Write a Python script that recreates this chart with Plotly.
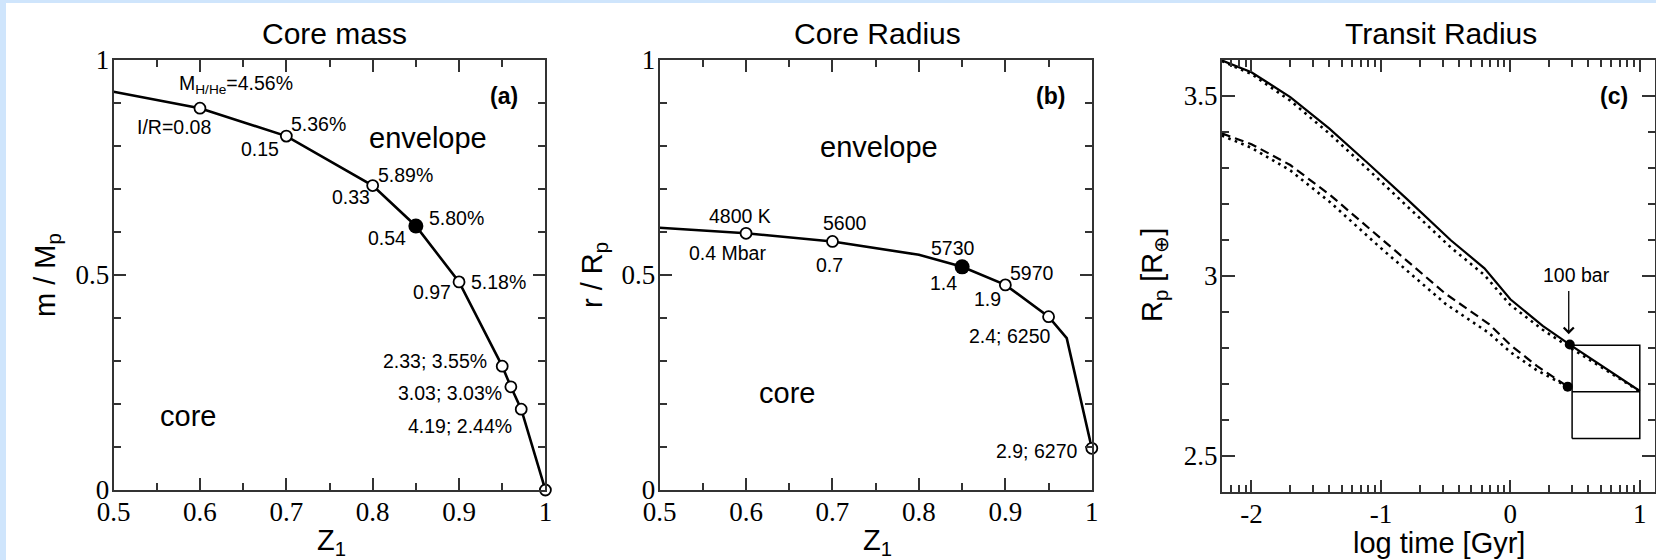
import math
import plotly.graph_objects as go

W, H = 1656, 560
SANS = "Liberation Sans, Arial, Helvetica, sans-serif"
SERIF = "Liberation Serif, Times New Roman, serif"
AX_COLOR = "#333333"

# ---------------- Panel (a): core mass ----------------
z_a = [0.5, 0.6, 0.7, 0.8, 0.85, 0.9, 0.95, 0.96, 0.972, 1.0]
m_a = [0.926, 0.888, 0.823, 0.708, 0.614, 0.484, 0.288, 0.240, 0.188, 0.0]
kind_a = ["none", "open", "open", "open", "filled", "open", "open", "open", "open", "open"]

labels_a = [
    ("M<sub>H/He</sub>=4.56%", 0.6417, 0.942),
    ("I/R=0.08", 0.570, 0.844),
    ("5.36%", 0.7367, 0.851),
    ("0.15", 0.670, 0.793),
    ("5.89%", 0.8385, 0.733),
    ("0.33", 0.7754, 0.681),
    ("5.80%", 0.8974, 0.633),
    ("0.54", 0.8166, 0.586),
    ("5.18%", 0.946, 0.484),
    ("0.97", 0.8687, 0.461),
    ("2.33; 3.55%", 0.8726, 0.300),
    ("3.03; 3.03%", 0.890, 0.226),
    ("4.19; 2.44%", 0.9011, 0.149),
]
regions_a = [("envelope", 0.8637, 0.819), ("core", 0.5866, 0.172)]

# ---------------- Panel (b): core radius ----------------
z_b = [0.5, 0.6, 0.7, 0.8, 0.85, 0.9, 0.95, 0.971, 1.0]
r_b = [0.610, 0.597, 0.578, 0.547, 0.519, 0.477, 0.403, 0.353, 0.097]
kind_b = ["none", "open", "open", "none", "filled", "open", "open", "none", "open"]

labels_b = [
    ("4800 K", 0.5926, 0.637),
    ("0.4 Mbar", 0.579, 0.551),
    ("5600", 0.7145, 0.622),
    ("0.7", 0.697, 0.523),
    ("5730", 0.839, 0.562),
    ("1.4", 0.8288, 0.481),
    ("5970", 0.9309, 0.504),
    ("1.9", 0.8798, 0.4435),
    ("2.4; 6250", 0.9043, 0.358),
    ("2.9; 6270", 0.9355, 0.0907),
]
regions_b = [("envelope", 0.7535, 0.798), ("core", 0.6474, 0.225)]

# ---------------- Panel (c): transit radius ----------------
logt_solid = [-2.229, -2.0, -1.70, -1.40, -1.10, -0.80, -0.46, -0.20, 0.0, 0.25, 0.459, 1.0]
rp_solid = [3.599, 3.566, 3.497, 3.410, 3.313, 3.214, 3.099, 3.021, 2.935, 2.861, 2.809, 2.680]
rp_solid_dot = [3.597, 3.561, 3.487, 3.396, 3.296, 3.195, 3.079, 3.002, 2.919, 2.850, 2.801, 2.679]

logt_dash = [-2.229, -2.0, -1.70, -1.39, -1.0, -0.50, -0.165, 0.0, 0.207, 0.443]
rp_dash = [3.396, 3.366, 3.308, 3.224, 3.104, 2.950, 2.866, 2.808, 2.749, 2.692]
rp_dash_dot = [3.390, 3.356, 3.293, 3.204, 3.077, 2.922, 2.841, 2.788, 2.737, 2.692]

bar100_x = [0.459, 0.443]
bar100_y = [2.809, 2.692]

box_x = [0.477, 1.0]
box_y = [2.548, 2.678, 2.807]

x_ticks_a = [0.5, 0.6, 0.7, 0.8, 0.9, 1.0]
x_ticktext_a = ["0.5", "0.6", "0.7", "0.8", "0.9", "1"]
y_ticks_a = [0, 0.5, 1]
y_ticktext_a = ["0", "0.5", "1"]
x_ticks_c = [-2, -1, 0, 1]
x_ticktext_c = ["-2", "-1", "0", "1"]
y_ticks_c = [2.5, 3.0, 3.5]
y_ticktext_c = ["2.5", "3", "3.5"]


def dom_x(a, b):
    return [a / W, b / W]


def dom_y(top, bottom):
    return [(H - bottom) / H, (H - top) / H]


fig = go.Figure()


def add_panel_curve(xs, ys, kinds, xa, ya):
    fig.add_trace(go.Scatter(x=xs, y=ys, mode="lines", xaxis=xa, yaxis=ya,
                             line=dict(color="black", width=2.6), cliponaxis=False,
                             showlegend=False, hoverinfo="skip"))
    ox = [x for x, k in zip(xs, kinds) if k == "open"]
    oy = [y for y, k in zip(ys, kinds) if k == "open"]
    fx = [x for x, k in zip(xs, kinds) if k == "filled"]
    fy = [y for y, k in zip(ys, kinds) if k == "filled"]
    fig.add_trace(go.Scatter(x=ox, y=oy, mode="markers", xaxis=xa, yaxis=ya, cliponaxis=False,
                             marker=dict(symbol="circle", size=11, color="white",
                                         line=dict(color="black", width=1.8)),
                             showlegend=False, hoverinfo="skip"))
    fig.add_trace(go.Scatter(x=fx, y=fy, mode="markers", xaxis=xa, yaxis=ya, cliponaxis=False,
                             marker=dict(symbol="circle", size=15, color="black"),
                             showlegend=False, hoverinfo="skip"))


add_panel_curve(z_a, m_a, kind_a, "x", "y")
add_panel_curve(z_b, r_b, kind_b, "x2", "y2")

# panel c curves
fig.add_trace(go.Scatter(x=logt_solid, y=rp_solid, mode="lines", xaxis="x3", yaxis="y3",
                         line=dict(color="black", width=2.2), showlegend=False, hoverinfo="skip"))
fig.add_trace(go.Scatter(x=logt_solid, y=rp_solid_dot, mode="lines", xaxis="x3", yaxis="y3",
                         line=dict(color="black", width=2.6, dash="2.6px,4.4px"),
                         showlegend=False, hoverinfo="skip"))
fig.add_trace(go.Scatter(x=logt_dash, y=rp_dash, mode="lines", xaxis="x3", yaxis="y3",
                         line=dict(color="black", width=2.2, dash="9px,5px"),
                         showlegend=False, hoverinfo="skip"))
fig.add_trace(go.Scatter(x=logt_dash, y=rp_dash_dot, mode="lines", xaxis="x3", yaxis="y3",
                         line=dict(color="black", width=2.6, dash="2.6px,4.4px"),
                         showlegend=False, hoverinfo="skip"))
# box
bx = [box_x[0], box_x[1], box_x[1], box_x[0], box_x[0], None, box_x[0], box_x[1]]
by = [box_y[0], box_y[0], box_y[2], box_y[2], box_y[0], None, box_y[1], box_y[1]]
fig.add_trace(go.Scatter(x=bx, y=by, mode="lines", xaxis="x3", yaxis="y3",
                         line=dict(color="black", width=1.5), showlegend=False, hoverinfo="skip"))
fig.add_trace(go.Scatter(x=bar100_x, y=bar100_y, mode="markers", xaxis="x3", yaxis="y3",
                         marker=dict(symbol="circle", size=10, color="black"),
                         showlegend=False, hoverinfo="skip"))

annotations = []


def txt(text, x, y, xref, yref, size, bold=False, family=SANS, angle=0):
    if bold:
        text = "<b>" + text + "</b>"
    annotations.append(dict(text=text, x=x, y=y, xref=xref, yref=yref, showarrow=False,
                            xanchor="center", yanchor="middle", textangle=angle,
                            font=dict(family=family, size=size, color="black")))


for t, x, y in labels_a:
    txt(t, x, y, "x", "y", 19.5)
for t, x, y in regions_a:
    txt(t, x, y, "x", "y", 29)
txt("(a)", 0.9516, 0.917, "x", "y", 23, bold=True)

for t, x, y in labels_b:
    txt(t, x, y, "x2", "y2", 19.5)
for t, x, y in regions_b:
    txt(t, x, y, "x2", "y2", 29)
txt("(b)", 0.9525, 0.917, "x2", "y2", 23, bold=True)

txt("(c)", 0.80, 3.50, "x3", "y3", 23, bold=True)
txt("100 bar", 0.514, 3.002, "x3", "y3", 19.5)
annotations.append(dict(text="", x=0.451, y=2.838, ax=0.451, ay=2.962, xref="x3", yref="y3",
                        axref="x3", ayref="y3", showarrow=True, arrowhead=4, arrowsize=1.5,
                        arrowwidth=1.3, arrowcolor="black", standoff=0, startstandoff=0))


def paper(px, py):
    return px / W, (H - py) / H


for t, px, py in [("Core mass", 334.5, 33), ("Core Radius", 877, 33), ("Transit Radius", 1441, 33)]:
    x, y = paper(px, py)
    txt(t, x, y, "paper", "paper", 30)

for t, px, py, ang in [("Z<sub>1</sub>", 331, 542, 0), ("Z<sub>1</sub>", 877, 542, 0),
                       ("log time [Gyr]", 1439, 543, 0),
                       ("m / M<sub>p</sub>", 47, 275, -90), ("r / R<sub>p</sub>", 594, 275, -90),
                       ("R<sub>p</sub> [R<sub>⊕</sub>]", 1154, 275, -90)]:
    x, y = paper(px, py)
    txt(t, x, y, "paper", "paper", 29, angle=ang)

common = dict(showline=True, linecolor=AX_COLOR, linewidth=2, mirror="allticks", ticks="inside",
              tickcolor=AX_COLOR, tickwidth=1.5, showgrid=False, zeroline=False, automargin=False,
              tickfont=dict(family=SERIF, size=27, color="black"), fixedrange=True)

XSTAND = -3
YSTAND = -3

minor_c = [n + math.log10(k) for n in range(-3, 2) for k in range(2, 10)]
minor_c = [v for v in minor_c if -2.229 < v < 1.113]

mt = dict(ticklen=7, ticks="inside", tickcolor=AX_COLOR, tickwidth=1.5)

layout_axes = dict(
    xaxis=dict(common, domain=dom_x(113.6, 545.4), anchor="y", range=[0.5, 1.0],
               tickmode="array", tickvals=x_ticks_a, ticktext=x_ticktext_a, ticklen=12,
               ticklabelstandoff=XSTAND, minor=dict(mt, dtick=0.05, tick0=0)),
    yaxis=dict(common, domain=dom_y(60, 490), anchor="x", range=[0, 1],
               tickmode="array", tickvals=y_ticks_a, ticktext=y_ticktext_a, ticklen=12,
               ticklabelstandoff=YSTAND, minor=dict(mt, dtick=0.1, tick0=0)),
    xaxis2=dict(common, domain=dom_x(659.6, 1091.8), anchor="y2", range=[0.5, 1.0],
                tickmode="array", tickvals=x_ticks_a, ticktext=x_ticktext_a, ticklen=12,
                ticklabelstandoff=XSTAND, minor=dict(mt, dtick=0.05, tick0=0)),
    yaxis2=dict(common, domain=dom_y(60, 490), anchor="x2", range=[0, 1],
                tickmode="array", tickvals=y_ticks_a, ticktext=y_ticktext_a, ticklen=12,
                ticklabelstandoff=YSTAND, minor=dict(mt, dtick=0.1, tick0=0)),
    xaxis3=dict(common, domain=dom_x(1221.8, 1654.5), anchor="y3", range=[-2.229, 1.1135],
                tickmode="array", tickvals=x_ticks_c, ticktext=x_ticktext_c, ticklen=12,
                ticklabelstandoff=XSTAND, minor=dict(mt, tickmode="array", tickvals=minor_c)),
    yaxis3=dict(common, domain=dom_y(60, 491.7), anchor="x3", range=[2.4, 3.6],
                tickmode="array", tickvals=y_ticks_c, ticktext=y_ticktext_c, ticklen=13,
                ticklabelstandoff=YSTAND, minor=dict(mt, dtick=0.1, tick0=0)),
)

shapes = [
    dict(type="rect", xref="paper", yref="paper", x0=0, x1=6 / W, y0=0, y1=1,
         fillcolor="#cfe5fc", line=dict(width=0), layer="below"),
    dict(type="rect", xref="paper", yref="paper", x0=0, x1=1, y0=(H - 3) / H, y1=1,
         fillcolor="#cfe5fc", line=dict(width=0), layer="below"),
]

fig.update_layout(template="none", width=W, height=H, autosize=False,
                  margin=dict(l=0, r=0, t=0, b=0, pad=0),
                  paper_bgcolor="white", plot_bgcolor="white",
                  annotations=annotations, shapes=shapes, showlegend=False,
                  font=dict(family=SANS, color="black"), **layout_axes)

fig.write_html("out.html", config={"displayModeBar": False})
